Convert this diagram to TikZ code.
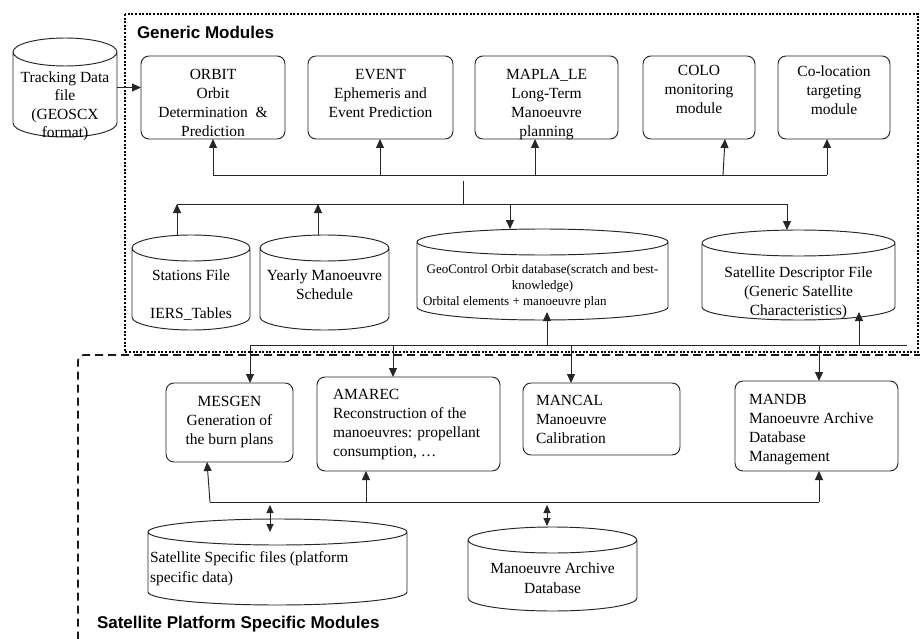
\documentclass[tikz,border=0pt]{standalone}
\usepackage{fontspec}
\setmainfont{Liberation Serif}
\newfontfamily\grouplabelfont{Liberation Sans}
\usetikzlibrary{arrows.meta,calc}

% outline of a drum (database) around an invisible node: #1 node, #2 half height of the ellipses
\newcommand\drumoutline[2]{%
  \draw[stroke] let \p1=(#1.north west), \p2=(#1.south east), \n1={(\x2-\x1)/2} in
    (\x1,\y1) -- (\x1,\y2) arc[start angle=180, end angle=360, x radius=\n1, y radius=#2pt]
    -- (\x2,\y1) arc[start angle=0, end angle=360, x radius=\n1, y radius=#2pt];
}

\begin{document}
\begin{tikzpicture}[x=1pt,y=-1pt,
  every node/.style={inner sep=0pt, outer sep=0pt},
  stroke/.style={draw=black!85, line width=0.95pt},
  modbox/.style={stroke, rectangle, rounded corners=8pt},
  drum/.style={rectangle},
  txt/.style={font=\fontsize{15.5}{19}\selectfont, align=center, anchor=north},
  txtl/.style={font=\fontsize{15.5}{19}\selectfont, align=left, anchor=north west},
  smalltxt/.style={font=\fontsize{13}{16}\selectfont},
  arr/.style={stroke, -{Triangle[length=9pt,width=8pt]}},
  barr/.style={stroke, {Triangle[length=8pt,width=7pt]}-{Triangle[length=8pt,width=7pt]}},
  dotframe/.style={draw=black, line width=2.6pt, dash pattern=on 2pt off 1.6pt},
  dashframe/.style={draw=black!90, line width=1.7pt, dash pattern=on 8pt off 5pt},
  grouplabel/.style={font=\grouplabelfont\bfseries\fontsize{17}{20}\selectfont, anchor=base west},
]
\useasboundingbox (0,0) rectangle (920,639);
\fill[white] (0,0) rectangle (920,639);

% ---------- group frames ----------
\draw[dotframe] (125,14) rectangle (918,352);
\draw[dashframe, rounded corners=6pt] (935,355) -- (78,355) -- (78,660);
\node[grouplabel] (genlbl) at (137,39) {Generic Modules};
\node[grouplabel] (satlbl) at (97,628) {Satellite Platform Specific Modules};

% ---------- tracking data input ----------
\node[drum, minimum width=104pt, minimum height=71pt] (trk) at (65,87.5) {};
\drumoutline{trk}{14}
\node[txt, font=\fontsize{15.5}{18.5}\selectfont] (trk-t) at (65,71.5) {Tracking Data\\file\\(GEOSCX\\format)};

% ---------- generic modules ----------
\node[modbox, minimum width=144pt, minimum height=83pt] (orbit) at (213,97.5) {};
\node[modbox, minimum width=145pt, minimum height=83pt] (event) at (380.5,97.5) {};
\node[modbox, minimum width=143pt, minimum height=83pt] (mapla) at (546.5,97.5) {};
\node[modbox, minimum width=112pt, minimum height=83pt] (colo) at (699,97.5) {};
\node[modbox, minimum width=112pt, minimum height=83pt] (coloc) at (834,97.5) {};

\node[txt] (orbit-t) at (213,69.5) {ORBIT\\Orbit\\Determination~ \&\\Prediction};
\node[txt] (event-t) at (380.5,69.5) {EVENT\\Ephemeris and\\Event Prediction};
\node[txt] (mapla-t) at (546.5,69.5) {MAPLA\_LE\\Long-Term\\Manoeuvre\\planning};
\node[txt] (colo-t) at (699,65.5) {COLO\\monitoring\\module};
\node[txt] (coloc-t) at (834,65.5) {Co-location\\targeting\\module};

% ---------- generic data files ----------
\node[drum, minimum width=118pt, minimum height=69pt] (stn) at (191,282.5) {};
\node[drum, minimum width=129pt, minimum height=69pt] (yrl) at (324.5,282.5) {};
\node[drum, minimum width=251pt, minimum height=65pt] (geo) at (542.5,274.5) {};
\node[drum, minimum width=193pt, minimum height=64pt] (sdf) at (798.5,275) {};
\drumoutline{stn}{13}
\drumoutline{yrl}{13}
\drumoutline{geo}{13}
\drumoutline{sdf}{13}

\node[txt] (stn-t) at (191,269.5) {Stations File\\[19pt]IERS\_Tables};
\node[txt] (yrl-t) at (324.5,269.5) {Yearly Manoeuvre\\Schedule};
\node[txt, smalltxt] (geo-t) at (542.5,264) {GeoControl Orbit database(scratch and best-\\knowledge)};
\node[smalltxt, anchor=north west] (geo-t2) at (423,296) {Orbital elements + manoeuvre plan};
\node[txt] (sdf-t) at (798.5,266.5) {Satellite Descriptor File\\(Generic Satellite\\Characteristics)};

% ---------- platform specific modules ----------
\node[modbox, minimum width=127pt, minimum height=79pt] (mesgen) at (229.5,422.5) {};
\node[modbox, minimum width=183pt, minimum height=94pt] (amarec) at (408.5,424) {};
\node[modbox, minimum width=157pt, minimum height=72pt] (mancal) at (601.5,419) {};
\node[modbox, minimum width=163pt, minimum height=90pt] (mandb) at (816.5,426) {};

\node[txt] (mesgen-t) at (229.5,396.5) {MESGEN\\Generation of\\the burn plans};
\node[txtl] (amarec-t) at (333,389.5) {AMAREC\\Reconstruction of the\\manoeuvres: propellant\\consumption, \ldots};
\node[txtl] (mancal-t) at (536,395.5) {MANCAL\\Manoeuvre\\Calibration};
\node[txtl] (mandb-t) at (749,394.5) {MANDB\\Manoeuvre Archive\\Database\\Management};

% ---------- platform specific data files ----------
\node[drum, minimum width=259pt, minimum height=60pt] (ssf) at (277.5,562) {};
\node[drum, minimum width=169pt, minimum height=58pt] (mad) at (552.5,569) {};
\drumoutline{ssf}{13}
\drumoutline{mad}{13}
\node[txtl, font=\fontsize{15.5}{20}\selectfont] (ssf-t) at (150,551.5) {Satellite Specific files (platform\\specific data)};
\node[txt, font=\fontsize{15.5}{20}\selectfont] (mad-t) at (552.5,562.5) {Manoeuvre Archive\\Database};

% ---------- connectors ----------
\draw[arr] (trk.east) -- (trk.east -| orbit.west);

% bus serving the generic modules
\coordinate (ua) at (213,175);
\coordinate (ub) at (380,175);
\coordinate (uc) at (535,175);
\coordinate (ud) at (723,175);
\coordinate (ue) at (827,175);
\draw[stroke] (ua) -- (ue);
\draw[arr] (ua) -- (ua |- orbit.south);
\draw[arr] (ub) -- (ub |- event.south);
\draw[arr] (uc) -- (uc |- mapla.south);
\draw[arr] (ud) -- ([xshift=2pt]ud |- colo.south);
\draw[arr] (ue) -- (ue |- coloc.south);

% bus to the generic data files
\coordinate (la) at (177,204);
\coordinate (lb) at (318,204);
\coordinate (lc) at (510,204);
\coordinate (ld) at (787,204);
\coordinate (lt) at (463,181);
\draw[stroke] (la) -- (ld);
\draw[stroke] (lt) -- (lt |- la);
\draw[arr] ($(la |- stn.north)+(0,-13)$) -- (la);
\draw[arr] ($(lb |- yrl.north)+(0,-13)$) -- (lb);
\draw[arr] (lc) -- ($(lc |- geo.north)+(0,-13)$);
\draw[arr] (ld) -- ($(ld |- sdf.north)+(0,-13)$);

% link between the two module groups
\coordinate (ma) at (250,345);
\coordinate (mb) at (393,345);
\coordinate (mc) at (547,345);
\coordinate (md) at (571,345);
\coordinate (me) at (819,345);
\coordinate (mf) at (859,345);
\coordinate (mg) at (907,345);
\draw[stroke] (ma) -- (mg);
\draw[arr] (ma) -- (ma |- mesgen.north);
\draw[arr] (mb) -- (mb |- amarec.north);
\draw[arr] (mc) -- ($(mc |- geo.south)+(0,5)$);
\draw[arr] (md) -- (md |- mancal.north);
\draw[arr] (me) -- (me |- mandb.north);
\draw[arr] (mf) -- ($(mf |- sdf.south)+(0,5)$);

% bus serving the platform specific modules
\coordinate (pa) at (210,502);
\coordinate (pb) at (366,502);
\coordinate (pc) at (819,502);
\draw[stroke] (pa) -- (pc);
\draw[arr] (pa) -- ([xshift=-3pt]pa |- mesgen.south);
\draw[arr] (pb) -- (pb |- amarec.south);
\draw[arr] (pc) -- (pc |- mandb.south);
\coordinate (pd) at (270,505);
\coordinate (pe) at (547,505);
\draw[barr] (pd) -- (pd |- ssf.north);
\draw[barr] (pe) -- ($(pe |- mad.north)+(0,-14)$);
\end{tikzpicture}
\end{document}
